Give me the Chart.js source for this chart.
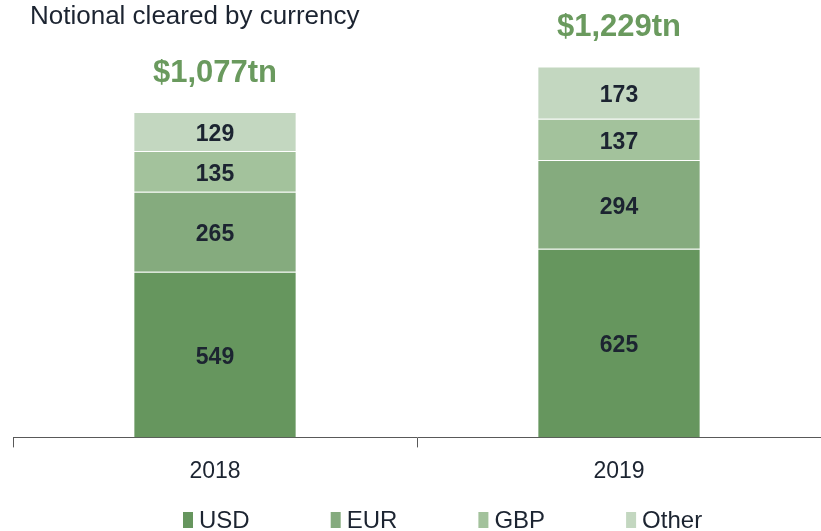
<!DOCTYPE html>
<html>
<head>
<meta charset="utf-8">
<script src="https://cdn.jsdelivr.net/npm/chart.js@4.4.0/dist/chart.umd.min.js"></script>
<style>
  html, body { margin: 0; padding: 0; background: #fff; }
  #wrap { width: 821px; height: 531px; position: relative; }
</style>
</head>
<body>
<div id="wrap"><canvas id="chart"></canvas></div>
<script>
const years = ["2018", "2019"];
const usd = [549, 625];
const eur = [265, 294];
const gbp = [135, 137];
const other = [129, 173];
const totals = ["$1,077tn", "$1,229tn"];
const seriesNames = ["USD", "EUR", "GBP", "Other"];
const colors = ["#66965e", "#85ab7e", "#a3c29c", "#c3d7c0"];

const textDark = "#1c2431";
const green = "#6a9a5e";
const font = "'Liberation Sans', Arial, sans-serif";

// title, segment values, totals and legend drawn on the canvas
const labelsPlugin = {
  id: "labels",
  afterDatasetsDraw(chart) {
    const c = chart.ctx;
    c.save();
    c.textAlign = "center";
    c.textBaseline = "middle";
    c.fillStyle = textDark;
    c.font = "bold 23px " + font;
    chart.data.datasets.forEach((ds, i) => {
      chart.getDatasetMeta(i).data.forEach((bar, j) => {
        c.fillText(ds.data[j], bar.x, (bar.y + bar.base) / 2 + 3);
      });
    });
    const top = chart.getDatasetMeta(chart.data.datasets.length - 1).data;
    c.fillStyle = green;
    c.font = "bold 31px " + font;
    top.forEach((bar, j) => c.fillText(totals[j], bar.x, bar.y - 39));

    c.textAlign = "left";
    c.fillStyle = textDark;
    c.font = "26px " + font;
    c.fillText("Notional cleared by currency", 30, 17);

    c.font = "24px " + font;
    chart.data.datasets.forEach((ds, i) => {
      const x = 183 + i * 147.7;
      c.fillStyle = ds.backgroundColor;
      c.fillRect(x, 512, 10, 16);
      c.fillStyle = textDark;
      c.fillText(ds.label, x + 16, 521);
    });
    c.restore();
  }
};

const data = [usd, eur, gbp, other];
new Chart(document.getElementById("chart"), {
  type: "bar",
  data: {
    labels: years,
    datasets: seriesNames.map((name, i) => ({
      label: name,
      data: data[i],
      backgroundColor: colors[i],
      borderColor: "rgba(255,255,255,0.2)",
      borderWidth: { top: 1 },
      borderSkipped: false,
      barPercentage: 0.4,
      categoryPercentage: 1
    }))
  },
  options: {
    responsive: true,
    maintainAspectRatio: false,
    animation: false,
    layout: { padding: { top: 45, left: 13, right: 0, bottom: 36 } },
    plugins: {
      legend: { display: false },
      tooltip: { enabled: false }
    },
    scales: {
      x: {
        stacked: true,
        offset: true,
        grid: { display: true, drawOnChartArea: false, drawTicks: true, tickLength: 10, color: "#595959", offset: true },
        border: { display: true, color: "#595959", width: 1 },
        ticks: { color: textDark, font: { family: font, size: 23 }, padding: 10 }
      },
      y: {
        stacked: true,
        display: false,
        min: 0,
        max: 1300
      }
    }
  },
  plugins: [labelsPlugin]
});
</script>
</body>
</html>
